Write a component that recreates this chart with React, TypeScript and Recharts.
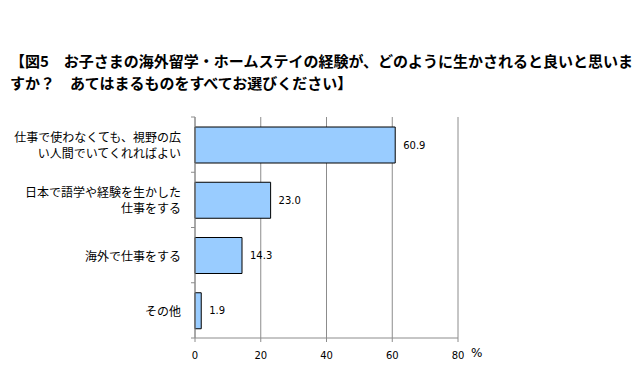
import { BarChart, Bar, XAxis, YAxis, CartesianGrid, LabelList } from "recharts";

const categories = [
  "仕事で使わなくても、視野の広い人間でいてくれればよい",
  "日本で語学や経験を生かした仕事をする",
  "海外で仕事をする",
  "その他",
];
const categoryLines = [
  ["仕事で使わなくても、視野の広", "い人間でいてくれればよい"],
  ["日本で語学や経験を生かした", "仕事をする"],
  ["海外で仕事をする"],
  ["その他"],
];
const values = [60.9, 23.0, 14.3, 1.9];
const xTicks = [0, 20, 40, 60, 80];
const titleLines = [
  "【図5　お子さまの海外留学・ホームステイの経験が、どのように生かされると良いと思いま",
  "すか？　あてはまるものをすべてお選びください】",
];

const data = categories.map((name, i) => ({ name, value: values[i] }));

// plot box in page px
const PLOT_LEFT = 195;
const PLOT_TOP = 117;
const PLOT_H = 221;
const BAND = PLOT_H / categories.length;
const GRID = "#8c8c8c";

function CategoryTick(props: any) {
  const { y, payload } = props;
  const idx = categories.indexOf(payload.value);
  const lines = categoryLines[idx] ?? [payload.value];
  const lh = 16;
  const top = y - ((lines.length - 1) * lh) / 2;
  return (
    <g>
      <line x1={PLOT_LEFT - 4} x2={PLOT_LEFT} y1={y - BAND / 2} y2={y - BAND / 2} stroke={GRID} />
      {idx === categories.length - 1 && (
        <line x1={PLOT_LEFT - 4} x2={PLOT_LEFT} y1={y + BAND / 2} y2={y + BAND / 2} stroke={GRID} />
      )}
      {lines.map((ln, i) => (
        <text
          key={i}
          x={PLOT_LEFT - 14}
          y={top + i * lh}
          textAnchor="end"
          dominantBaseline="central"
          fontSize={12}
          fill="#000"
          fontFamily="'Noto Sans CJK JP', sans-serif"
        >
          {ln}
        </text>
      ))}
    </g>
  );
}

export default function App() {
  return (
    <div
      style={{
        position: "fixed",
        left: 0,
        top: 0,
        width: 640,
        height: 380,
        background: "#fff",
      }}
    >
      <div
        style={{
          position: "absolute",
          left: 10,
          top: 50,
          fontFamily: "'Noto Sans CJK JP', sans-serif",
          fontWeight: 700,
          fontSize: 15,
          lineHeight: "22px",
          whiteSpace: "nowrap",
          color: "#000",
        }}
      >
        {titleLines.map((t, i) => (
          <div key={i}>{t}</div>
        ))}
      </div>
      <div style={{ position: "absolute", left: 0, top: 0 }}>
        <BarChart
          width={640}
          height={380}
          data={data}
          layout="vertical"
          margin={{ top: PLOT_TOP, right: 182, bottom: 12, left: 10 }}
        >
          <CartesianGrid horizontal={false} stroke={GRID} />
          <XAxis
            type="number"
            domain={[0, 80]}
            ticks={xTicks}
            height={30}
            axisLine={{ stroke: GRID }}
            tickLine={{ stroke: GRID }}
            tickSize={4}
            tickMargin={10}
            tick={{ fill: "#000", fontSize: 10, fontFamily: "'DejaVu Sans', sans-serif" }}
            label={{
              value: "%",
              position: "right",
              offset: 13,
              fill: "#000",
              fontSize: 12,
              fontFamily: "'DejaVu Sans', sans-serif",
            }}
          />
          <YAxis
            type="category"
            dataKey="name"
            width={185}
            axisLine={{ stroke: GRID }}
            tickLine={false}
            tick={<CategoryTick />}
            interval={0}
          />
          <Bar dataKey="value" fill="#99CCFF" stroke="#000" strokeWidth={1} barSize={36} isAnimationActive={false}>
            <LabelList
              dataKey="value"
              position="right"
              offset={8}
              formatter={(v: any) => Number(v).toFixed(1)}
              fill="#000"
              fontSize={10}
              fontFamily="'DejaVu Sans', sans-serif"
            />
          </Bar>
        </BarChart>
      </div>
    </div>
  );
}
